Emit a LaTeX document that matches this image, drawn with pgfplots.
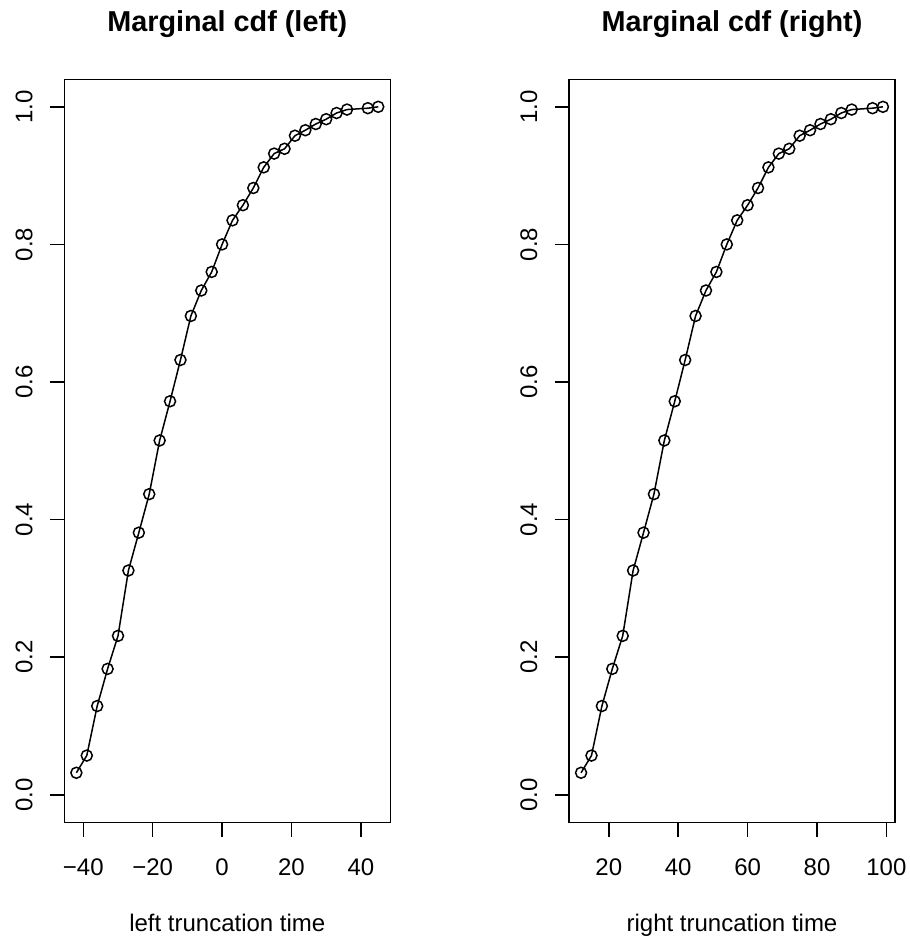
\documentclass[border=0pt]{standalone}
\usepackage{fontspec}
\setmainfont{Liberation Sans}
\usepackage{pgfplots}
\usepackage{pgfplotstable}
\pgfplotsset{compat=1.18}

\pgfplotstableread{
x y
-42 0.032
-39 0.057
-36 0.129
-33 0.183
-30 0.231
-27 0.326
-24 0.381
-21 0.437
-18 0.515
-15 0.572
-12 0.632
-9 0.696
-6 0.733
-3 0.760
0 0.800
3 0.835
6 0.857
9 0.882
12 0.912
15 0.932
18 0.939
21 0.958
24 0.966
27 0.975
30 0.982
33 0.991
36 0.996
42 0.998
45 1.000
}\lefttab

\pgfplotstableread{
x y
12 0.032
15 0.057
18 0.129
21 0.183
24 0.231
27 0.326
30 0.381
33 0.437
36 0.515
39 0.572
42 0.632
45 0.696
48 0.733
51 0.760
54 0.800
57 0.835
60 0.857
63 0.882
66 0.912
69 0.932
72 0.939
75 0.958
78 0.966
81 0.975
84 0.982
87 0.991
90 0.996
96 0.998
99 1.000
}\righttab

\pgfplotsset{
  rstyle/.style={
    scale only axis,
    width=163pt, height=371.5pt,
    anchor=south west,
    ymin=-0.04, ymax=1.04,
    ytick={0,0.2,0.4,0.6,0.8,1.0},
    yticklabels={0.0,0.2,0.4,0.6,0.8,1.0},
    tick pos=left,
    tick align=outside,
    major tick length=7.2pt,
    every tick/.style={black, line width=0.75pt},
    axis line style={line width=0.75pt},
    font=\fontsize{12}{14.4}\selectfont,
    xticklabel style={anchor=base, font=\fontsize{12}{14.4}\selectfont},
    yticklabel style={rotate=90, anchor=base, font=\fontsize{12}{14.4}\selectfont},
    xticklabel shift=19.4pt,
    yticklabel shift=8.8pt,
    title style={at={(axis description cs:0.5,1)}, anchor=base, yshift=17.9pt, font=\bfseries\fontsize{14.4}{17}\selectfont},
    xlabel style={at={(axis description cs:0.5,0)}, anchor=base, yshift=-54.4pt, font=\fontsize{12}{14.4}\selectfont},
    clip=false,
  },
  rline/.style={black, line width=0.75pt, mark=o, mark size=2.75pt, mark options={line width=0.75pt, fill=none}},
}

\begin{document}
\begin{tikzpicture}
\useasboundingbox (0,0) rectangle (455pt,469pt);
\begin{axis}[rstyle, at={(32.15pt,57.85pt)},
  xmin=-45.48, xmax=48.48,
  xtick={-40,-20,0,20,40},
  xticklabels={−40,−20,0,20,40},
  title={Marginal cdf (left)},
  xlabel={left truncation time}]
\addplot[rline] table[x=x,y=y] {\lefttab};
\end{axis}
\begin{axis}[rstyle, at={(284.5pt,57.85pt)},
  xmin=8.52, xmax=102.48,
  xtick={20,40,60,80,100},
  xticklabels={20,40,60,80,100},
  title={Marginal cdf (right)},
  xlabel={right truncation time}]
\addplot[rline] table[x=x,y=y] {\righttab};
\end{axis}
\end{tikzpicture}
\end{document}
